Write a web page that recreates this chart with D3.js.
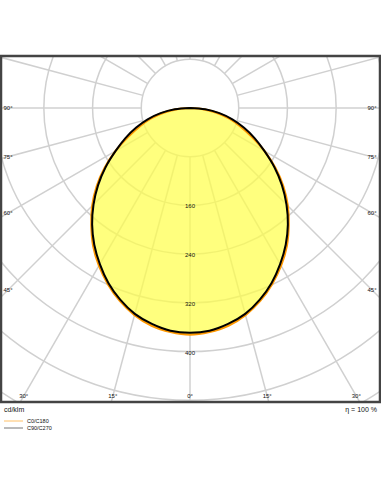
<!DOCTYPE html>
<html>
<head>
<meta charset="utf-8">
<script src="https://cdn.jsdelivr.net/npm/d3@7"></script>
<style>
  body { margin: 0; background: #fff; }
  text { font-family: "Liberation Sans", Arial, sans-serif; fill: #111; }
</style>
</head>
<body>
<svg id="ldc" width="381" height="492"></svg>
<script>
// gamma angles (deg), 0 = straight down
var angles = [0, 5, 10, 15, 20, 25, 30, 35, 40, 45, 50, 55, 60, 65, 70, 75, 80, 85, 90];
// cd/klm
var c0c180 = [372, 369, 363, 352, 337, 319, 299, 277, 252, 227, 200, 171, 141, 112, 88, 67, 44, 21, 0];
var c90c270 = [369, 367, 360, 350, 335, 317, 296, 274, 250, 224, 197, 169, 141, 117, 94, 72, 49, 25, 0];

var radialTicks = [80, 160, 240, 320, 400, 480, 560, 640];
var radialLabels = [160, 240, 320, 400];
var angleTicks = [0, 15, 30, 45, 60, 75, 90];

var svg = d3.select("#ldc");

var frame = {x0: 1, y0: 56, x1: 380, y1: 402};
var cx = 190, cy = 108;

var r = d3.scaleLinear().domain([0, 400]).range([0, 243.6]);

svg.append("defs").append("clipPath").attr("id", "fr")
    .append("rect")
    .attr("x", frame.x0).attr("y", frame.y0)
    .attr("width", frame.x1 - frame.x0).attr("height", frame.y1 - frame.y0);

var g = svg.append("g").attr("clip-path", "url(#fr)");
var c = g.append("g").attr("transform", "translate(" + cx + "," + cy + ")");

// grid circles
c.selectAll("circle.grid")
    .data(radialTicks)
    .enter().append("circle")
    .attr("class", "grid")
    .attr("r", function(d) { return r(d); })
    .attr("fill", "none")
    .attr("stroke", "#d0d0d0")
    .attr("stroke-width", 1.5);

// spokes every 15 deg, starting at the 80 circle
var spokes = d3.range(0, 360, 15);
c.selectAll("line.spoke")
    .data(spokes)
    .enter().append("line")
    .attr("class", "spoke")
    .attr("x1", function(d) { return r(80) * Math.sin(d * Math.PI / 180); })
    .attr("y1", function(d) { return r(80) * Math.cos(d * Math.PI / 180); })
    .attr("x2", function(d) { return 600 * Math.sin(d * Math.PI / 180); })
    .attr("y2", function(d) { return 600 * Math.cos(d * Math.PI / 180); })
    .attr("stroke", "#d0d0d0")
    .attr("stroke-width", 1.5);

// curves, -90..90 (left half mirrored)
var toPts = function(vals) {
    var pts = [];
    for (var i = angles.length - 1; i > 0; i--) pts.push({a: -angles[i], v: vals[i]});
    for (var j = 0; j < angles.length; j++) pts.push({a: angles[j], v: vals[j]});
    return pts;
};

var line = d3.lineRadial()
    .angle(function(d) { return Math.PI - d.a * Math.PI / 180; })
    .radius(function(d) { return r(d.v); })
    .curve(d3.curveCatmullRom);

var fills = c.append("g").attr("opacity", 0.72);
[c0c180, c90c270].forEach(function(vals) {
    fills.append("path")
        .attr("d", line(toPts(vals)) + "Z")
        .attr("fill", "#ffff4d");
});

c.append("path")
    .attr("d", line(toPts(c0c180)))
    .attr("fill", "none")
    .attr("stroke", "#ff9900")
    .attr("stroke-width", 2.2);

c.append("path")
    .attr("d", line(toPts(c90c270)))
    .attr("fill", "none")
    .attr("stroke", "#000")
    .attr("stroke-width", 2);

// value labels
c.selectAll("text.val")
    .data(radialLabels)
    .enter().append("text")
    .attr("class", "val")
    .attr("x", 0)
    .attr("y", function(d) { return r(d) + 3; })
    .attr("text-anchor", "middle")
    .attr("font-size", 6)
    .text(function(d) { return d; });

// angle labels where the spoke hits the inner box
var inner = {xl: 8, xr: 372, yb: 396};
var labelPos = function(a, side) {
    var t = a * Math.PI / 180;
    var sx = Math.sin(t), sy = Math.cos(t);
    var k1 = sx > 1e-6 ? (inner.xr - cx) / sx : Infinity;
    var k2 = sy > 1e-6 ? (inner.yb - cy) / sy : Infinity;
    var k = Math.min(k1, k2);
    return [cx + side * k * sx, cy + k * sy];
};
var angLab = [];
angleTicks.forEach(function(a) {
    angLab.push({a: a, p: labelPos(a, 1)});
    if (a > 0) angLab.push({a: a, p: labelPos(a, -1)});
});
svg.selectAll("text.ang")
    .data(angLab)
    .enter().append("text")
    .attr("class", "ang")
    .attr("x", function(d) { return d.p[0]; })
    .attr("y", function(d) { return d.p[1] + 2; })
    .attr("text-anchor", "middle")
    .attr("font-size", 6)
    .text(function(d) { return d.a + "°"; });

// frame
svg.append("rect")
    .attr("x", frame.x0).attr("y", frame.y0)
    .attr("width", frame.x1 - frame.x0).attr("height", frame.y1 - frame.y0)
    .attr("fill", "none")
    .attr("stroke", "#444")
    .attr("stroke-width", 2.5);

// footer
svg.append("text").attr("x", 4).attr("y", 412).attr("font-size", 7).text("cd/klm");
svg.append("text").attr("x", 377).attr("y", 412).attr("font-size", 7)
    .attr("text-anchor", "end").text("η = 100 %");

var legend = [{name: "C0/C180", color: "#ffc067"}, {name: "C90/C270", color: "#777"}];
var lg = svg.selectAll("g.leg").data(legend).enter().append("g")
    .attr("transform", function(d, i) { return "translate(4," + (421 + i * 7) + ")"; });
lg.append("line").attr("x1", 0).attr("x2", 19).attr("y1", 0).attr("y2", 0)
    .attr("stroke", function(d) { return d.color; }).attr("stroke-width", 1);
lg.append("text").attr("x", 23).attr("y", 2).attr("font-size", 5.5)
    .text(function(d) { return d.name; });
</script>
</body>
</html>
